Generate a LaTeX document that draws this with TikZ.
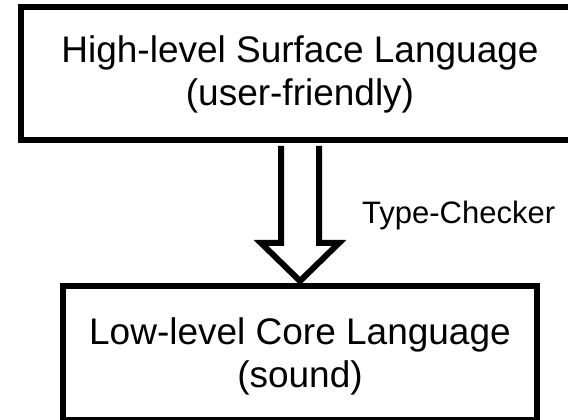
\documentclass[tikz,border=0pt]{standalone}
\usepackage{fontspec}
\setmainfont{Liberation Sans}
\usetikzlibrary{calc}
\begin{document}
\begin{tikzpicture}[x=1pt,y=1pt,
  box/.style={draw=black, line width=6pt, fill=white, align=center, inner sep=0pt,
              font=\fontsize{37}{42.5}\selectfont},
  blockarrow/.style={draw=black, line width=6pt, fill=white, line join=miter},
  note/.style={font=\fontsize{31}{36}\selectfont, inner sep=0pt}]
\useasboundingbox (0,0) rectangle (568,420);
\clip (0,0) rectangle (568,420);

% the two language levels
\node[box, minimum width=558, minimum height=133] (surface) at (300,346.5)
  {\rule{0pt}{29pt}High-level Surface Language\\(user-friendly)};
\node[box, minimum width=474, minimum height=134] (core) at (300,67)
  {\rule{0pt}{34pt}Low-level Core Language\\(sound)};

% hollow block arrow from the surface language down to the core language
\draw[blockarrow]
  ($(surface.south)+(-19,-3)$) -- ($(core.north)+(-19,40)$)
  -- ($(core.north)+(-39,40)$) -- ($(core.north)+(0,2)$)
  -- ($(core.north)+(39,40)$) -- ($(core.north)+(19,40)$)
  -- ($(surface.south)+(19,-3)$);

\node[note, anchor=base west] (tc) at ($(core.north)+(62,59)$) {Type-Checker};
\end{tikzpicture}
\end{document}
